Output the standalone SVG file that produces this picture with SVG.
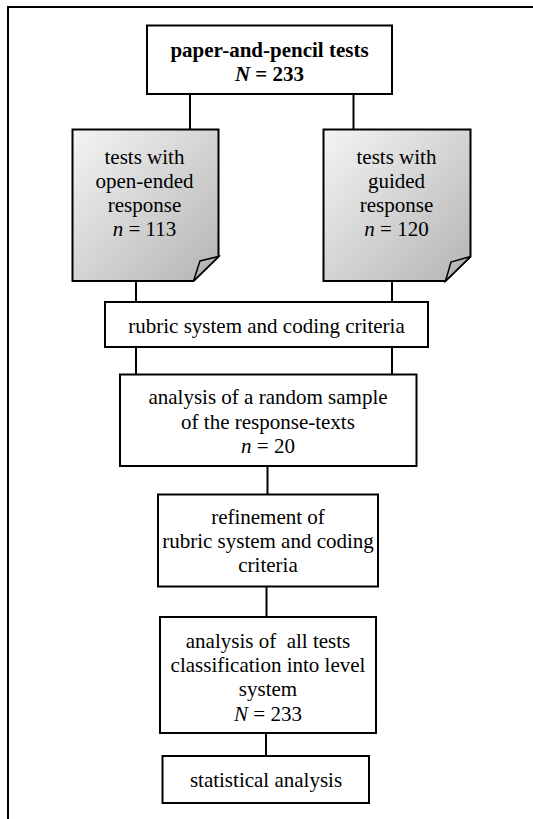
<svg xmlns="http://www.w3.org/2000/svg" width="533" height="819" viewBox="0 0 533 819">
<style>
.box{fill:#fff;stroke:#000;stroke-width:2}
.doc{fill:url(#g);stroke:#000;stroke-width:2;stroke-linejoin:miter}
.flap{fill:url(#g2);stroke:#000;stroke-width:1.5}
.t{font-family:"Liberation Serif","Times New Roman",serif;font-size:21px;fill:#000;text-anchor:middle}
.b{font-weight:bold}
.i{font-style:italic}
.c{stroke:#000;stroke-width:2;fill:none}
</style>
<defs>
<linearGradient id="g" x1="0" y1="0" x2="1" y2="1">
<stop offset="0" stop-color="#f4f4f4"/>
<stop offset="1" stop-color="#b4b4b4"/>
</linearGradient>
<linearGradient id="g2" x1="0" y1="0" x2="1" y2="1">
<stop offset="0" stop-color="#d0d0d0"/>
<stop offset="1" stop-color="#909090"/>
</linearGradient>
</defs>
<path d="M8,819 V7 H533" fill="none" stroke="#000" stroke-width="2"/>
<g id="connectors">
<path class="c" d="M190,94 V129"/>
<path class="c" d="M353.5,94 V129"/>
<path class="c" d="M136,281 V302"/>
<path class="c" d="M392,281 V302"/>
<path class="c" d="M136,347 V374"/>
<path class="c" d="M392,347 V374"/>
<path class="c" d="M267.5,466 V494"/>
<path class="c" d="M266.5,587 V617"/>
<path class="c" d="M266,733 V756"/>
</g>
<g id="n1">
<rect class="box" x="147" y="25.5" width="245" height="68.5"/>
<text class="t b" x="269.5" y="57">paper-and-pencil tests</text>
<text class="t b" x="269.5" y="81"><tspan class="i">N</tspan> = 233</text>
</g>
<g id="n2">
<path class="doc" d="M72.5,129.5 H218.5 V256.5 L193.5,281 H72.5 Z"/>
<path class="flap" d="M218.5,256.5 L200,261 L193.5,281 Z"/>
<text class="t" x="144.5" y="163.5">tests with</text>
<text class="t" x="144.5" y="187.5">open-ended</text>
<text class="t" x="144.5" y="211.5">response</text>
<text class="t" x="144.5" y="236"><tspan class="i">n</tspan> = 113</text>
</g>
<g id="n3">
<path class="doc" d="M323.5,129.5 H470.5 V256.5 L445.5,281 H323.5 Z"/>
<path class="flap" d="M470.5,256.5 L451,262 L445.5,281 Z"/>
<text class="t" x="396.5" y="163.5">tests with</text>
<text class="t" x="396.5" y="187.5">guided</text>
<text class="t" x="396.5" y="211.5">response</text>
<text class="t" x="396.5" y="236"><tspan class="i">n</tspan> = 120</text>
</g>
<g id="n4">
<rect class="box" x="105" y="302" width="323" height="45"/>
<text class="t" x="266.5" y="332.5">rubric system and coding criteria</text>
</g>
<g id="n5">
<rect class="box" x="120" y="374.5" width="296.5" height="91.5"/>
<text class="t" x="268" y="404">analysis of a random sample</text>
<text class="t" x="268" y="428.5">of the response-texts</text>
<text class="t" x="268" y="452.5"><tspan class="i">n</tspan> = 20</text>
</g>
<g id="n6">
<rect class="box" x="158" y="494.5" width="220" height="92"/>
<text class="t" x="268" y="523.5">refinement of</text>
<text class="t" x="268" y="547.5">rubric system and coding</text>
<text class="t" x="268" y="571.5">criteria</text>
</g>
<g id="n7">
<rect class="box" x="160" y="617" width="216" height="116"/>
<text class="t" x="268" y="647.5" xml:space="preserve">analysis of  all tests</text>
<text class="t" x="268" y="672">classification into level</text>
<text class="t" x="268" y="696">system</text>
<text class="t" x="268" y="720.5"><tspan class="i">N</tspan> = 233</text>
</g>
<g id="n8">
<rect class="box" x="162.5" y="756" width="206.5" height="47"/>
<text class="t" x="266" y="786.5">statistical analysis</text>
</g>
</svg>
